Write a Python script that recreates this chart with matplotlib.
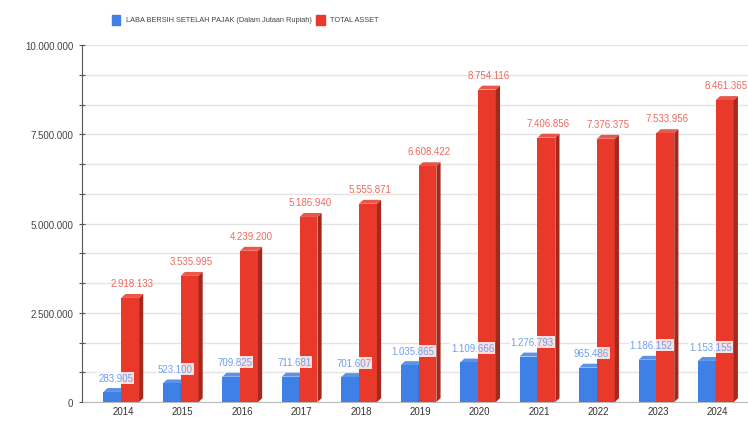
import numpy as np
import matplotlib.pyplot as plt
from matplotlib.patches import Polygon
from matplotlib.ticker import MultipleLocator, FuncFormatter

plt.rcParams['font.family'] = ['Liberation Sans', 'DejaVu Sans']

# data
years = ['2014', '2015', '2016', '2017', '2018', '2019', '2020', '2021', '2022', '2023', '2024']
laba = [283905, 523100, 709825, 711681, 701607, 1035865, 1109666, 1276793, 965486, 1186152, 1153155]
total_asset = [2918133, 3535995, 4239200, 5186940, 5555871, 6608422, 8754116, 7406856, 7376375, 7533956, 8461365]

blue = '#3f80e6'
blue_dark = '#2a5cb0'
red = '#e8392b'
red_dark = '#a3281d'
blue_txt = '#6f9ff0'
red_txt = '#ec6a5e'


def dotted(v):
    return '{:,}'.format(int(round(v))).replace(',', '.')


def bar3d(ax, xs, vals, w, face, side, depth_x, depth_y):
    ax.bar(xs, vals, w, color=face, zorder=3, linewidth=0)
    # darker right side and top face for the fake 3D look
    for x, v in zip(xs, vals):
        r = x + w / 2
        ax.add_patch(Polygon([(r, 0), (r + depth_x, depth_y), (r + depth_x, v + depth_y), (r, v)],
                             closed=True, color=side, zorder=3, linewidth=0))
        ax.add_patch(Polygon([(x - w / 2, v), (r, v), (r + depth_x, v + depth_y), (x - w / 2 + depth_x, v + depth_y)],
                             closed=True, color=face, zorder=3, linewidth=0, alpha=0.85))


fig = plt.figure(figsize=(7.48, 4.27), dpi=100)
ax = fig.add_axes([0.11, 0.056, 0.89, 0.836])

x = np.arange(len(years))
w = 0.30
dx, dy = 0.07, 110000

bar3d(ax, x - w / 2, laba, w, blue, blue_dark, dx, dy)
bar3d(ax, x + w / 2, total_asset, w, red, red_dark, dx, dy)

for xi, v in zip(x, total_asset):
    ax.text(xi + w / 2 + 0.03, v + 420000, dotted(v), ha='center', va='center',
            fontsize=7, color=red_txt, zorder=5)
for xi, v in zip(x, laba):
    ax.text(xi - w / 2 + 0.06, v + 400000, dotted(v), ha='center', va='center',
            fontsize=7, color=blue_txt, zorder=5,
            bbox=dict(boxstyle='square,pad=0.1', fc='white', ec='none', alpha=0.85))

ax.set_xlim(-0.655, 10.54)
ax.set_ylim(0, 10000000)
ax.set_xticks(x + 0.03)
ax.set_xticklabels(years, fontsize=7, color='#333333')
ax.tick_params(axis='x', length=0, pad=3)

ax.yaxis.set_major_locator(MultipleLocator(2500000))
ax.yaxis.set_minor_locator(MultipleLocator(2500000 / 3))
ax.yaxis.set_major_formatter(FuncFormatter(lambda v, p: dotted(v)))
ax.tick_params(axis='y', which='both', direction='inout', length=5, width=0.8,
               color='#555555', labelsize=7, labelcolor='#444444', pad=4)
ax.grid(axis='y', which='both', color='#e4e4e4', linewidth=1, zorder=0)

for s in ['top', 'right']:
    ax.spines[s].set_visible(False)
ax.spines['left'].set_color('#555555')
ax.spines['bottom'].set_color('#bbbbbb')
ax.spines['left'].set_zorder(6)

# legend row on top
fig.patches.append(plt.Rectangle((0.150, 0.94), 0.011, 0.022, transform=fig.transFigure,
                                 color=blue, figure=fig))
fig.text(0.168, 0.951, 'LABA BERSIH SETELAH PAJAK (Dalam Jutaan Rupiah)', fontsize=5.3,
         color='#444444', va='center')
fig.patches.append(plt.Rectangle((0.423, 0.94), 0.011, 0.022, transform=fig.transFigure,
                                 color=red, figure=fig))
fig.text(0.441, 0.951, 'TOTAL ASSET', fontsize=5.3, color='#444444', va='center')

fig.savefig('out.png', dpi=100)
